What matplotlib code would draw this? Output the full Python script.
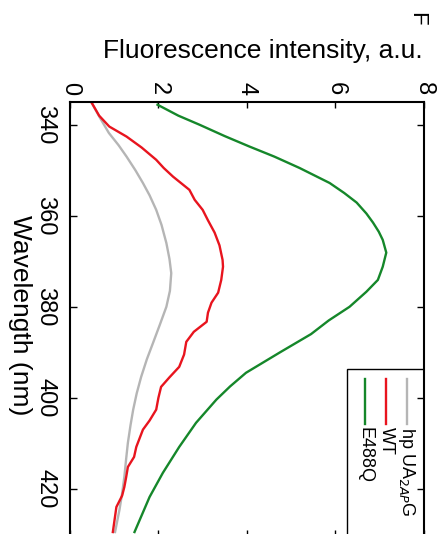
import matplotlib.pyplot as plt
from matplotlib.patches import Rectangle
from matplotlib.lines import Line2D

plt.rcParams['font.family'] = ['Liberation Sans', 'DejaVu Sans']

# values (wavelength nm, intensity a.u.)
wl_e488q = [335.6, 338.0, 340.0, 342.5, 344.8, 347.0, 349.5, 352.8, 355.0, 357.1, 359.5,
            361.5, 363.5, 365.3, 368.1, 371.2, 374.1, 376.7, 380.0, 383.0, 386.0,
            390.0, 394.5, 397.5, 400.4, 405.5, 410.8, 416.5, 421.8, 429.5]
int_e488q = [1.98, 2.45, 2.93, 3.50, 4.06, 4.62, 5.19, 5.87, 6.20, 6.48, 6.70,
             6.85, 6.98, 7.07, 7.15, 7.07, 6.96, 6.70, 6.32, 5.85, 5.45,
             4.75, 3.98, 3.62, 3.31, 2.85, 2.47, 2.10, 1.80, 1.46]

wl_wt = [335.3, 338.0, 340.4, 342.6, 345.0, 347.7, 349.5, 351.4, 354.3, 356.5, 358.7,
         361.0, 363.7, 366.5, 369.7, 371.2, 374.1, 376.9, 379.1, 381.3, 383.3,
         385.5, 387.7, 390.5, 393.2, 395.5, 397.6, 400.0, 402.6, 405.0, 407.0,
         410.8, 413.0, 415.2, 417.5, 419.6, 421.5, 424.0, 429.5]
int_wt = [0.50, 0.66, 0.89, 1.28, 1.62, 1.95, 2.12, 2.33, 2.70, 2.82, 3.00,
          3.12, 3.27, 3.38, 3.45, 3.46, 3.42, 3.35, 3.20, 3.12, 3.09,
          2.80, 2.63, 2.58, 2.47, 2.25, 2.06, 2.00, 1.95, 1.80, 1.65,
          1.50, 1.45, 1.31, 1.27, 1.23, 1.18, 1.05, 0.97]

wl_hp = [335.3, 338.5, 341.8, 344.5, 347.0, 350.0, 352.8, 355.5, 358.7, 362.0, 366.0,
         369.5, 372.6, 376.5, 380.0, 384.0, 387.9, 391.5, 395.4, 399.0, 402.6,
         406.0, 409.9, 413.5, 417.4, 421.0, 424.6, 429.5]
int_hp = [0.50, 0.68, 0.88, 1.10, 1.28, 1.48, 1.65, 1.80, 1.95, 2.07, 2.18,
          2.25, 2.29, 2.26, 2.18, 2.03, 1.88, 1.74, 1.61, 1.51, 1.43,
          1.37, 1.31, 1.27, 1.23, 1.18, 1.12, 1.02]

labels = ['hp UA$_{2AP}$G', 'WT', 'E488Q']
colors = ['#b5b5b5', '#e8141e', '#15872a']
x_ticks = [0, 2, 4, 6, 8]
y_ticks = [340, 360, 380, 400, 420]

fig = plt.figure(figsize=(4.37, 5.34), dpi=100)
ax = fig.add_axes([0.160, -0.004, 0.810, 0.813])

ax.plot(int_hp, wl_hp, color=colors[0], lw=1.7)
ax.plot(int_wt, wl_wt, color=colors[1], lw=1.7)
ax.plot(int_e488q, wl_e488q, color=colors[2], lw=1.7)

ax.set_xlim(0, 8)
ax.set_ylim(430.4, 335)
ax.set_xticks(x_ticks)
ax.set_yticks(y_ticks)
for s in ax.spines.values():
    s.set_linewidth(1.5)

ax.tick_params(axis='x', direction='in', top=True, bottom=True,
               labeltop=True, labelbottom=False, labelrotation=-90,
               labelsize=17, pad=5, length=4, width=1)
ax.tick_params(axis='y', direction='in', left=True, right=True,
               labelrotation=-90, labelsize=17, pad=10, length=5, width=1)
for t in ax.get_yticklabels():
    t.set_va('center')

# rotated legend box in the lower right corner
ax.add_patch(Rectangle((0.782, -0.05), 0.25, 0.434, transform=ax.transAxes,
                       facecolor='white', edgecolor='black', lw=1))
for xf, c, lab in zip([0.952, 0.893, 0.833], colors, labels):
    ax.add_line(Line2D([xf, xf], [0.363, 0.259], transform=ax.transAxes,
                       color=c, lw=1.7))
    ax.text(xf, 0.252, lab, transform=ax.transAxes, rotation=-90,
            ha='center', va='top', fontsize=13)

fig.text(263 / 437, 1 - 51 / 534, 'Fluorescence intensity, a.u.',
         ha='center', va='center', fontsize=19)
fig.text(20 / 437, 1 - 315 / 534, 'Wavelength (nm)', rotation=-90,
         ha='center', va='center', fontsize=19)
fig.text(417 / 437, 1 - 19 / 534, 'F', rotation=-90,
         ha='center', va='center', fontsize=16)

fig.savefig('out.png', dpi=100)
